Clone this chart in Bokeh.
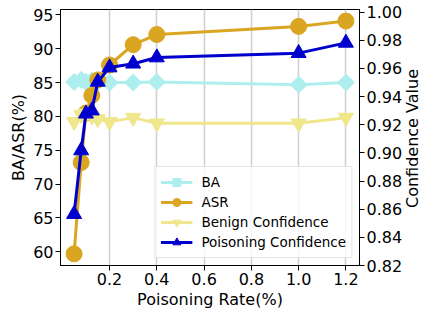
import math
from bokeh.plotting import figure
from bokeh.models import (Range1d, LinearAxis, FixedTicker, PrintfTickFormatter,
                          Legend, LegendItem, Label)
from bokeh.embed import file_html
from bokeh.resources import INLINE

# ---- data ----
rates = [0.05, 0.08, 0.1, 0.125, 0.15, 0.2, 0.3, 0.4, 1.0, 1.2]
ba = [85.1, 85.4, 85.1, 85.3, 85.1, 85.0, 85.0, 85.1, 84.7, 85.0]
asr = [59.7, 73.2, 80.5, 83.1, 85.4, 87.6, 90.6, 92.1, 93.3, 94.1]
benign_conf = [0.922, 0.927, 0.928, 0.926, 0.924, 0.922, 0.925, 0.921, 0.921, 0.925]
poison_conf = [0.8565, 0.9017, 0.9278, 0.930, 0.9504, 0.9606, 0.9633, 0.9677, 0.9708, 0.9781]

x_ticks = [0.2, 0.4, 0.6, 0.8, 1.0, 1.2]
left_ticks = [60, 65, 70, 75, 80, 85, 90, 95]
right_ticks = [0.82, 0.84, 0.86, 0.88, 0.90, 0.92, 0.94, 0.96, 0.98, 1.00]
right_label = "Confidence Value"

FONT = "DejaVu Sans"
TICK_FS = "16px"
LABEL_FS = "16px"

W, H = 425, 311
p = figure(width=W, height=H, output_backend="svg", toolbar_location=None,
           x_range=Range1d(-0.0075, 1.2575), y_range=Range1d(57.98, 95.8),
           min_border_left=60, min_border_right=66, min_border_top=9, min_border_bottom=30)
p.extra_y_ranges = {"conf": Range1d(0.82, 1.0018)}

p.outline_line_color = "black"
p.outline_line_width = 1
p.background_fill_color = "white"
p.border_fill_color = "white"

# grids
p.ygrid.visible = False
p.xgrid.ticker = FixedTicker(ticks=x_ticks)
p.xgrid.grid_line_color = "#cfcfcf"
p.xgrid.grid_line_width = 1.5

def style_axis(ax):
    ax.axis_line_color = "black"
    ax.axis_line_width = 1
    ax.major_tick_line_color = "black"
    ax.major_tick_out = 5
    ax.major_tick_in = 0
    ax.minor_tick_line_color = None
    ax.major_label_text_font = FONT
    ax.major_label_text_font_size = TICK_FS
    ax.major_label_text_color = "black"
    ax.axis_label_text_font = FONT
    ax.axis_label_text_font_size = LABEL_FS
    ax.axis_label_text_font_style = "normal"
    ax.axis_label_text_color = "black"
    ax.major_label_standoff = 2
    ax.axis_label_standoff = 2

xa = p.xaxis[0]
xa.ticker = FixedTicker(ticks=x_ticks)
xa.formatter = PrintfTickFormatter(format="%.1f")
xa.axis_label = "Poisoning Rate(%)"
style_axis(xa)

ya = p.yaxis[0]
ya.ticker = FixedTicker(ticks=left_ticks)
ya.axis_label = "BA/ASR(%)"
style_axis(ya)

ra = LinearAxis(y_range_name="conf", ticker=FixedTicker(ticks=right_ticks),
                formatter=PrintfTickFormatter(format="%.2f"))
style_axis(ra)
p.add_layout(ra, "right")

# right axis title, reading bottom-to-top, in the right side panel
frame_h = H - 9 - 48
p.add_layout(Label(x=7, y=frame_h / 2, x_units="screen", y_units="screen",
                   text=right_label, angle=math.pi / 2,
                   text_align="center", text_baseline="middle",
                   text_font=FONT, text_font_size=LABEL_FS, text_color="black"), "right")

LW = 3
# BA
c_ba = "#afeeee"
l1 = p.line(rates, ba, line_color=c_ba, line_width=LW)
s1 = p.scatter(rates, ba, marker="square", angle=math.pi / 4, size=12,
               fill_color=c_ba, line_color=c_ba)
# ASR
c_asr = "#daa520"
l2 = p.line(rates, asr, line_color=c_asr, line_width=LW)
s2 = p.scatter(rates, asr, marker="circle", size=16, fill_color=c_asr, line_color=c_asr)
# Benign confidence
c_bc = "#f0e68c"
l3 = p.line(rates, benign_conf, line_color=c_bc, line_width=LW, y_range_name="conf")
s3 = p.scatter(rates, benign_conf, marker="inverted_triangle", size=15,
               fill_color=c_bc, line_color=c_bc, y_range_name="conf")
# Poisoning confidence
c_pc = "#0000cd"
l4 = p.line(rates, poison_conf, line_color=c_pc, line_width=LW, y_range_name="conf")
s4 = p.scatter(rates, poison_conf, marker="triangle", size=15,
               fill_color=c_pc, line_color=c_pc, y_range_name="conf")

legend = Legend(items=[
    LegendItem(label="BA", renderers=[l1, s1]),
    LegendItem(label="ASR", renderers=[l2, s2]),
    LegendItem(label="Benign Confidence", renderers=[l3, s3]),
    LegendItem(label="Poisoning Confidence", renderers=[l4, s4]),
], location="bottom_right")
legend.margin = 7
legend.padding = 5
legend.spacing = 0
legend.glyph_width = 32
legend.glyph_height = 20
legend.label_height = 20
legend.label_standoff = 9
legend.label_text_font = FONT
legend.label_text_font_size = "13.5px"
legend.label_text_color = "black"
legend.border_line_color = "#cccccc"
legend.border_line_width = 1
legend.background_fill_alpha = 0.8
p.add_layout(legend, "center")

open("out.html", "w").write(file_html(p, INLINE))
